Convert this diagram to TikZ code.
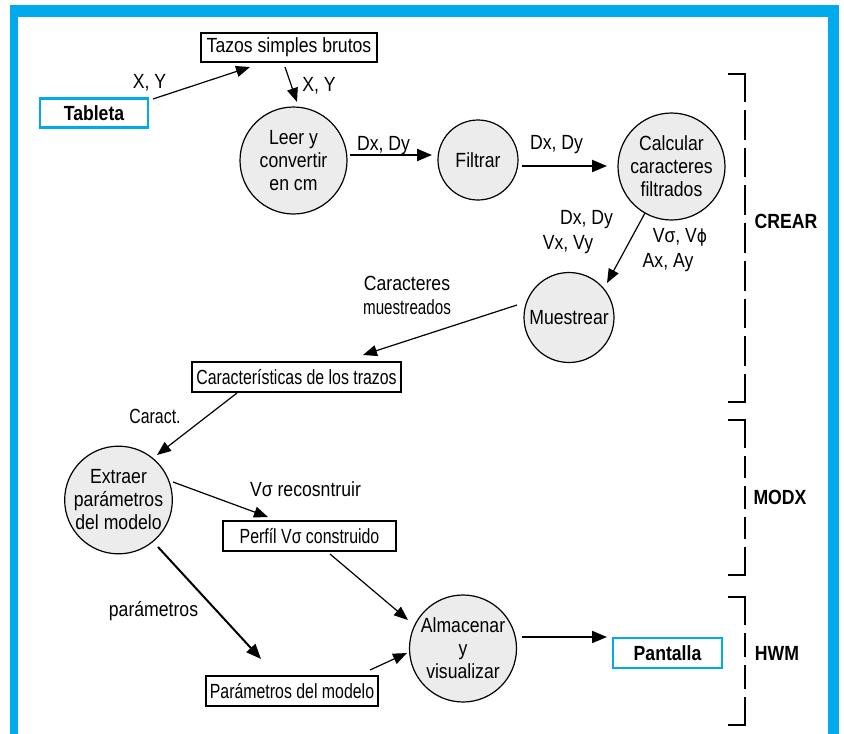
\documentclass[tikz,border=0pt]{standalone}
\usepackage{fontspec}
\setmainfont{Liberation Sans}[FakeStretch=0.86]
\newfontfamily\narrowfont{Liberation Sans}[FakeStretch=0.74]
\newfontfamily\boxfont{Liberation Sans}[FakeStretch=0.775]
\newfontfamily\symfont{DejaVu Sans}[FakeStretch=0.86]
\usetikzlibrary{arrows.meta}
\definecolor{frameblue}{RGB}{0,170,236}
\definecolor{circgray}{RGB}{236,236,236}
\begin{document}
\begin{tikzpicture}[x=1pt,y=-1pt,
  font=\fontsize{20.5}{23}\selectfont,
  proc/.style={circle,draw,line width=1.2pt,fill=circgray,inner sep=0pt,align=center},
  store/.style={rectangle,draw,line width=1.1pt,inner sep=0pt,minimum height=30pt},
  extent/.style={rectangle,draw=frameblue,line width=2.2pt,inner sep=0pt,minimum height=29pt,font=\fontsize{20.5}{23}\selectfont\bfseries},
  arr/.style={line width=1.2pt,-{Triangle[length=14pt,width=11pt]}},
  thickarr/.style={line width=2pt,-{Triangle[length=15pt,width=12pt]}},
  lbl/.style={inner sep=0pt},
  brlbl/.style={inner sep=0pt,font=\fontsize{20.5}{23}\selectfont\bfseries},
  brsolid/.style={line width=1.3pt},
  brdash/.style={line width=1.3pt,dash pattern=on #1 off 8pt},
]
\useasboundingbox (0,0) rectangle (844,734);
% frame
\fill[frameblue] (10,5) rectangle (839,734);
\fill[white] (18,17) rectangle (828,734);

% nodes
\node[store,minimum width=176pt,minimum height=29pt] (taz) at (289,47.5) {Tazos simples brutos};
\node[extent,minimum width=108pt] (tab) at (94,113) {Tableta};
\node[proc,minimum size=107pt] (leer) at (293.5,160.5) {Leer y\\convertir\\en cm};
\node[proc,minimum size=80pt] (filt) at (478,160) {Filtrar};
\node[proc,minimum size=107pt] (calc) at (671.5,166.5) {Calcular\\caracteres\\filtrados};
\node[proc,minimum size=90pt] (mues) at (569,317.5) {Muestrear};
\node[store,minimum width=209pt] (car) at (296.5,377) {\boxfont Características de los trazos};
\node[proc,minimum size=107pt] (ext) at (118.5,500) {Extraer\\parámetros\\del modelo};
\node[store,minimum width=173pt] (perf) at (309.5,536) {\boxfont Perfíl Vσ construido};
\node[store,minimum width=172pt] (par) at (292,691) {\boxfont Parámetros del modelo};
\node[proc,minimum size=107pt] (alm) at (463,648.5) {Almacenar\\y\\visualizar};
\node[extent,minimum width=109pt,minimum height=30pt] (pant) at (667.5,653) {Pantalla};

% connectors
\draw[arr] ([shift={(59,-14)}]tab.center) -- ([shift={(-39,19.5)}]taz.center);
\draw[arr] ([shift={(-4,19.5)}]taz.center) -- ([shift={(3.5,-58.5)}]leer.center);
\draw[thickarr] ([shift={(56.5,-5.5)}]leer.center) -- ([shift={(-46,-5)}]filt.center);
\draw[thickarr] ([shift={(44,6)}]filt.center) -- ([shift={(-64.5,-0.5)}]calc.center);
\draw[arr] ([shift={(-26.5,46.5)}]calc.center) -- ([shift={(38,-34.5)}]mues.center);
\draw[arr] ([shift={(-52,-12.5)}]mues.center) -- ([shift={(66.5,-22)}]car.center);
\draw[arr] ([shift={(-59.5,16)}]car.center) -- ([shift={(38.5,-45)}]ext.center);
\draw[arr] ([shift={(54.5,-18)}]ext.center) -- ([shift={(-41.5,-19)}]perf.center);
\draw[arr] ([shift={(20.5,18)}]perf.center) -- ([shift={(-55,-28.5)}]alm.center);
\draw[thickarr] ([shift={(39.5,47)}]ext.center) -- ([shift={(-31,-32)}]par.center);
\draw[arr] ([shift={(78,-21)}]par.center) -- ([shift={(-56,4.5)}]alm.center);
\draw[thickarr] ([shift={(59,-11.5)}]alm.center) -- ([shift={(-60.5,-16)}]pant.center);

% labels
\node[lbl] (l1) at (149.5,83) {X, Y};
\node[lbl] (l2) at (319,86) {X, Y};
\node[lbl] (l3) at (383.5,146) {Dx, Dy};
\node[lbl] (l4) at (556.5,145) {Dx, Dy};
\node[lbl] (l5a) at (586.5,220) {Dx, Dy};
\node[lbl] (l5b) at (568,244.5) {Vx, Vy};
\node[lbl] (l6a) at (680,237) {Vσ, V{\symfont\fontsize{18}{23}\selectfont ϕ}};
\node[lbl] (l6b) at (668,263) {Ax, Ay};
\node[lbl] (l7a) at (407,283) {Caracteres};
\node[lbl] (l7b) at (407,307) {\narrowfont muestreados};
\node[lbl] (l8) at (155,416) {\boxfont Caract.};
\node[lbl] (l9) at (305.5,489) {Vσ recosntruir};
\node[lbl] (l10) at (153.5,611) {parámetros};

% brackets
\coordinate (crT) at (745,74);
\coordinate (crB) at (745,402);
\draw[brsolid] ([shift={(-17,0)}]crT) -- (crT) -- ([shift={(0,28)}]crT);
\draw[brdash=29.7pt] ([shift={(0,36)}]crT) -- ([shift={(0,-36)}]crB);
\draw[brsolid] ([shift={(0,-28)}]crB) -- (crB) -- ([shift={(-17,0)}]crB);
\node[brlbl] (crear) at (786,221) {CREAR};

\coordinate (mxT) at (745,420);
\coordinate (mxB) at (745,575);
\draw[brsolid] ([shift={(-17,0)}]mxT) -- (mxT) -- ([shift={(0,28)}]mxT);
\draw[brdash=22.3pt] ([shift={(0,36)}]mxT) -- ([shift={(0,-36)}]mxB);
\draw[brsolid] ([shift={(0,-28)}]mxB) -- (mxB) -- ([shift={(-17,0)}]mxB);
\node[brlbl] (modx) at (780,497) {MODX};

\coordinate (hwT) at (745,597);
\coordinate (hwB) at (745,725);
\draw[brsolid] ([shift={(-17,0)}]hwT) -- (hwT) -- ([shift={(0,28)}]hwT);
\draw[brdash=24pt] ([shift={(0,36)}]hwT) -- ([shift={(0,-36)}]hwB);
\draw[brsolid] ([shift={(0,-28)}]hwB) -- (hwB) -- ([shift={(-17,0)}]hwB);
\node[brlbl] (hwm) at (777,653) {HWM};
\end{tikzpicture}
\end{document}
